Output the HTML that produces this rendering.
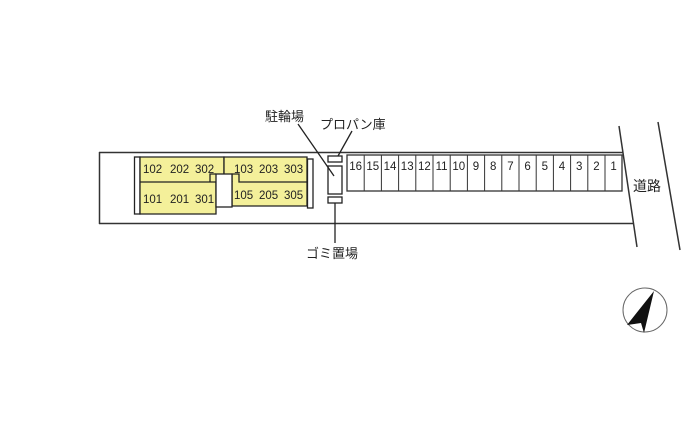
<!DOCTYPE html>
<html><head><meta charset="utf-8"><style>
html,body{margin:0;padding:0;background:#fff;}
svg{display:block;}
text{font-family:"Liberation Sans","Noto Sans CJK JP",sans-serif;fill:#222;}
</style></head><body>
<svg width="700" height="444" viewBox="0 0 700 444" xmlns="http://www.w3.org/2000/svg">
<g stroke="#333" stroke-width="1.5" fill="none">
<line x1="99" y1="152.5" x2="623" y2="152.5"/>
<line x1="99" y1="223.5" x2="633" y2="223.5"/>
<line x1="99.5" y1="152" x2="99.5" y2="224"/>
<line x1="619" y1="126" x2="637" y2="247"/>
<line x1="658" y1="122" x2="680" y2="250"/>
</g>
<g stroke="#222" stroke-width="1.3">
<rect x="134.5" y="157" width="5.5" height="57" fill="#fff"/>
<rect x="307.5" y="159" width="5.5" height="49" fill="#fff"/>
<path d="M140 157 H224 V182 H216 V214 H140 Z" fill="#f4f09a"/>
<path d="M224 157 H307 V206 H232 V182 H224 Z" fill="#f4f09a"/>
<line x1="140" y1="182" x2="216" y2="182"/>
<path d="M210 182 V174 H216" fill="none"/>
<path d="M232 182 V174 H239 V182 H307" fill="none"/>
<rect x="216" y="174" width="16" height="33" fill="#fff"/>
<rect x="328" y="156" width="14" height="6" fill="#fff"/>
<rect x="328" y="166" width="14" height="28" fill="#fff"/>
<rect x="328" y="197" width="14" height="6" fill="#fff"/>
<line x1="298" y1="124" x2="334" y2="176"/>
<line x1="352" y1="131" x2="338" y2="156"/>
<line x1="335" y1="203" x2="335" y2="243"/>
</g>
<g font-size="11.5">
<text x="143" y="173">102</text><text x="170" y="173">202</text><text x="195" y="173">302</text>
<text x="234" y="173">103</text><text x="259" y="173">203</text><text x="284" y="173">303</text>
<text x="143" y="203">101</text><text x="170" y="203">201</text><text x="195" y="203">301</text>
<text x="234" y="199">105</text><text x="259" y="199">205</text><text x="284" y="199">305</text>
</g>
<g stroke="#333" stroke-width="1.3" fill="#fff">
<rect x="347" y="155" width="275" height="36"/>
</g>
<g stroke="#333" stroke-width="1">
<line x1="364.2" y1="155" x2="364.2" y2="191"/><line x1="381.4" y1="155" x2="381.4" y2="191"/>
<line x1="398.6" y1="155" x2="398.6" y2="191"/><line x1="415.8" y1="155" x2="415.8" y2="191"/>
<line x1="433" y1="155" x2="433" y2="191"/><line x1="450.2" y1="155" x2="450.2" y2="191"/>
<line x1="467.4" y1="155" x2="467.4" y2="191"/><line x1="484.6" y1="155" x2="484.6" y2="191"/>
<line x1="501.8" y1="155" x2="501.8" y2="191"/><line x1="519" y1="155" x2="519" y2="191"/>
<line x1="536.2" y1="155" x2="536.2" y2="191"/><line x1="553.4" y1="155" x2="553.4" y2="191"/>
<line x1="570.6" y1="155" x2="570.6" y2="191"/><line x1="587.8" y1="155" x2="587.8" y2="191"/>
<line x1="605" y1="155" x2="605" y2="191"/>
</g>
<g font-size="11.5" text-anchor="middle">
<text x="355.6" y="170">16</text><text x="372.8" y="170">15</text><text x="390" y="170">14</text>
<text x="407.2" y="170">13</text><text x="424.4" y="170">12</text><text x="441.6" y="170">11</text>
<text x="458.8" y="170">10</text><text x="476" y="170">9</text><text x="493.2" y="170">8</text>
<text x="510.4" y="170">7</text><text x="527.6" y="170">6</text><text x="544.8" y="170">5</text>
<text x="562" y="170">4</text><text x="579.2" y="170">3</text><text x="596.4" y="170">2</text>
<text x="613.6" y="170">1</text>
</g>
<g font-size="13">
<text x="265" y="121">駐輪場</text>
<text x="320" y="129">プロパン庫</text>
<text x="306" y="258">ゴミ置場</text>
<text x="633" y="191" font-size="14">道路</text>
</g>
<circle cx="645" cy="310" r="22" fill="none" stroke="#666" stroke-width="1"/>
<polygon points="654,291 627,325 641,323 644,333" fill="#111"/>
</svg>
</body></html>
